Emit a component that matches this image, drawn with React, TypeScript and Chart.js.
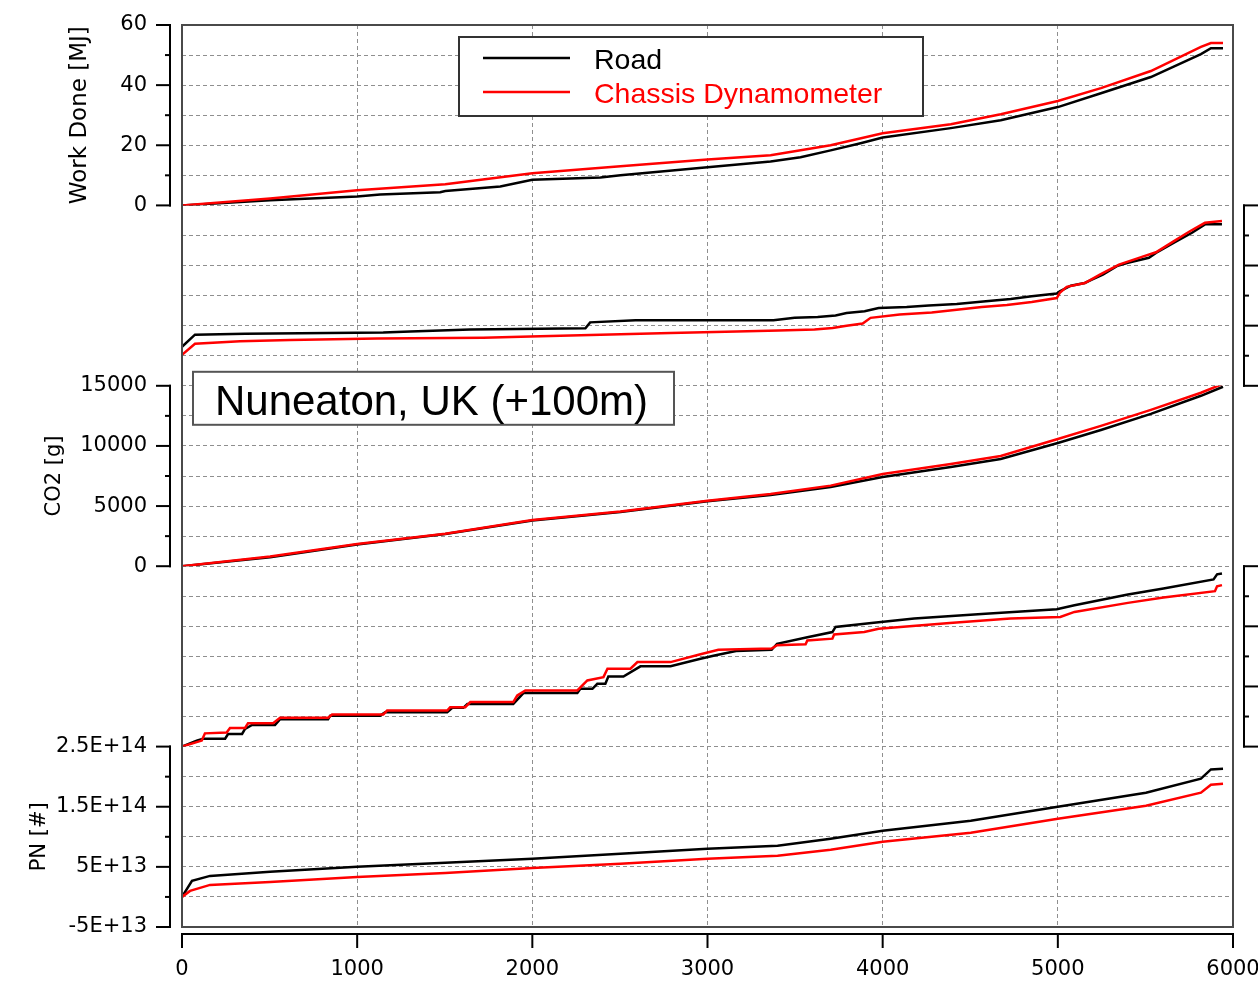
import React, { useEffect, useRef } from 'react';
import { Chart, registerables } from 'chart.js';
Chart.register(...registerables);

// ---------- series labels ----------
const ROAD = 'Road';
const CHASSIS = 'Chassis Dynamometer';
const ROAD_COLOR = '#000000';
const CHASSIS_COLOR = '#ff0000';

// ---------- x axis ----------
const xTicks = [0, 1000, 2000, 3000, 4000, 5000, 6000];

// ---------- panel 1: Work Done [MJ] ----------
const wdRoadTime = [0, 503, 1000, 1131, 1474, 1503, 1817, 2000, 2389, 2503, 3000, 3360, 3531, 3703, 3874, 4000, 4389, 4674, 5000, 5246, 5531, 5817, 5874, 5943];
const wdRoadMJ = [0, 1.7, 3.0, 3.6, 4.4, 4.8, 6.3, 8.5, 9.3, 10.0, 12.7, 14.6, 16.0, 18.3, 20.7, 22.6, 25.7, 28.3, 32.7, 37.3, 42.7, 50.3, 52.3, 52.3];
const wdChassisTime = [0, 503, 1000, 1503, 2000, 2503, 3000, 3360, 3703, 4000, 4389, 4674, 5000, 5246, 5531, 5817, 5874, 5943];
const wdChassisMJ = [0, 2.3, 5.0, 7.0, 10.7, 13.0, 15.3, 16.7, 20.0, 24.0, 27.0, 30.3, 34.7, 39.0, 44.7, 52.7, 54.0, 54.0];

// ---------- panel 2 (right axis, labels outside the frame) ----------
const p2RoadTime = [0, 74, 360, 1149, 1303, 1646, 2303, 2330, 2589, 3377, 3497, 3629, 3731, 3794, 3897, 3977, 4137, 4263, 4423, 4589, 4731, 4851, 4994, 5011, 5074, 5154, 5194, 5257, 5337, 5400, 5520, 5560, 5663, 5766, 5840, 5937];
const p2RoadVal = [1.30, 1.70, 1.73, 1.77, 1.81, 1.87, 1.91, 2.11, 2.18, 2.18, 2.26, 2.29, 2.34, 2.42, 2.48, 2.59, 2.62, 2.67, 2.72, 2.81, 2.89, 2.98, 3.07, 3.14, 3.33, 3.42, 3.53, 3.70, 3.98, 4.09, 4.26, 4.42, 4.76, 5.09, 5.37, 5.37];
const p2ChassisTime = [0, 74, 331, 617, 1114, 1720, 1989, 2389, 2789, 3166, 3406, 3611, 3714, 3794, 3886, 3931, 4097, 4280, 4423, 4566, 4709, 4851, 4994, 5011, 5051, 5154, 5240, 5349, 5480, 5560, 5663, 5754, 5840, 5937];
const p2ChassisVal = [1.03, 1.40, 1.48, 1.52, 1.57, 1.60, 1.64, 1.70, 1.76, 1.81, 1.84, 1.87, 1.92, 2.00, 2.07, 2.26, 2.37, 2.44, 2.53, 2.62, 2.69, 2.79, 2.92, 3.09, 3.29, 3.42, 3.70, 4.03, 4.29, 4.44, 4.81, 5.14, 5.42, 5.48];

// ---------- panel 3: CO2 [g] ----------
const co2Time = [0, 503, 1000, 1503, 2000, 2503, 3000, 3360, 3703, 4000, 4389, 4674, 5000, 5246, 5531, 5817, 5943];
const co2Road = [0, 750, 1800, 2670, 3800, 4500, 5400, 5920, 6580, 7420, 8250, 8920, 10250, 11330, 12670, 14170, 14920];
const co2Chassis = [0, 800, 1850, 2700, 3850, 4550, 5450, 6000, 6700, 7670, 8500, 9170, 10580, 11670, 13000, 14420, 15170];

// ---------- panel 4 (right axis, labels outside the frame) ----------
const p4RoadTime = [0, 84, 120, 246, 263, 343, 360, 400, 531, 560, 834, 846, 1131, 1160, 1514, 1543, 1606, 1629, 1891, 1949, 2257, 2274, 2343, 2371, 2417, 2434, 2520, 2617, 2789, 2960, 3040, 3163, 3366, 3397, 3570, 3713, 3731, 3936, 4180, 4587, 4994, 5095, 5400, 5603, 5889, 5909, 5937];
const p4RoadVal = [0, 0.20, 0.26, 0.26, 0.42, 0.42, 0.59, 0.72, 0.72, 0.91, 0.91, 1.03, 1.03, 1.14, 1.14, 1.29, 1.29, 1.42, 1.42, 1.78, 1.78, 1.92, 1.92, 2.09, 2.09, 2.33, 2.33, 2.67, 2.67, 2.92, 3.03, 3.18, 3.22, 3.42, 3.64, 3.81, 3.98, 4.11, 4.26, 4.42, 4.57, 4.70, 5.06, 5.26, 5.56, 5.73, 5.76];
const p4ChassisTime = [0, 113, 131, 255, 274, 360, 377, 520, 560, 834, 857, 1149, 1171, 1514, 1531, 1617, 1646, 1891, 1914, 1960, 2257, 2314, 2406, 2429, 2560, 2600, 2789, 2960, 3062, 3366, 3397, 3560, 3570, 3713, 3723, 3895, 3977, 4383, 4729, 5014, 5095, 5400, 5603, 5897, 5909, 5937];
const p4ChassisVal = [0, 0.20, 0.44, 0.47, 0.62, 0.62, 0.78, 0.78, 0.96, 0.96, 1.07, 1.07, 1.20, 1.20, 1.31, 1.31, 1.48, 1.48, 1.70, 1.87, 1.87, 2.20, 2.31, 2.59, 2.59, 2.81, 2.81, 3.07, 3.22, 3.26, 3.37, 3.40, 3.53, 3.59, 3.73, 3.81, 3.92, 4.11, 4.26, 4.31, 4.48, 4.78, 4.96, 5.17, 5.33, 5.37];

// ---------- panel 5: PN [#] ----------
const pnRoadTime = [0, 57, 160, 503, 1000, 1503, 2000, 2503, 3000, 3400, 3703, 4000, 4503, 5000, 5503, 5817, 5874, 5943];
const pnRoad = [0, 2.67e13, 3.5e13, 4.17e13, 5.0e13, 5.67e13, 6.33e13, 7.17e13, 8.0e13, 8.5e13, 9.67e13, 1.1e14, 1.267e14, 1.5e14, 1.733e14, 1.967e14, 2.12e14, 2.13e14];
const pnChassisTime = [0, 46, 160, 503, 1000, 1503, 2000, 2503, 3000, 3400, 3703, 4000, 4503, 5000, 5503, 5817, 5874, 5943];
const pnChassis = [0, 1.0e13, 2.0e13, 2.5e13, 3.33e13, 4.0e13, 4.83e13, 5.5e13, 6.33e13, 6.83e13, 7.83e13, 9.17e13, 1.067e14, 1.3e14, 1.517e14, 1.733e14, 1.867e14, 1.883e14];

// ---------- texts ----------
const wdTitle = 'Work Done [MJ]';
const co2Title = 'CO2 [g]';
const pnTitle = 'PN [#]';
const placeText = 'Nuneaton, UK (+100m)';

const zip = (t: number[], v: number[]) => t.map((x, i) => ({ x, y: v[i] }));

const TICK_FONT = { family: 'DejaVu Sans', size: 21 };
const LEFT_W = 182;
const RIGHT_W = 67;
const GRID = { color: '#8f8f8f', lineWidth: 1, drawTicks: false };
const BORDER = { display: false, dash: [4, 3] };

const isMult = (v: number, base: number, step: number) => {
  const q = (v - base) / step;
  return Math.abs(q - Math.round(q)) < 1e-6;
};

// which tick values get long (labelled) tick marks, per axis
const MAJOR: Record<string, (v: number) => boolean> = {
  L1: (v) => isMult(v, 0, 20),
  L3: (v) => isMult(v, 0, 5000),
  L5: (v) => isMult(v, -5e13, 1e14),
  R2: (v) => isMult(v, 0, 2),
  R4: (v) => isMult(v, 0, 2),
};

const fitV = (width: number) => (s: any) => {
  s.width = width;
  s.paddingTop = 0;
  s.paddingBottom = 0;
};

const leftAxis = (id: string, weight: number, min: number, max: number, step: number, fmt: (v: number) => string, title: string, titleSize: number, titlePad: number) => ({
  type: 'linear', position: 'left', stack: 'ys', weight, min, max,
  afterFit: fitV(LEFT_W),
  ticks: { stepSize: step, autoSkip: false, font: TICK_FONT, color: '#000', padding: 35,
    callback: (v: any) => (MAJOR[id](Number(v)) ? fmt(Number(v)) : '') },
  grid: GRID, border: BORDER,
  title: { display: true, text: title, font: { family: 'DejaVu Sans', size: titleSize }, color: '#000', padding: { top: titlePad, bottom: 0 } },
});

const placeholder = (position: string, weight: number, width: number) => ({
  type: 'linear', position, stack: 'ys', weight, min: 0, max: 1, display: true,
  afterFit: fitV(width),
  ticks: { display: false }, grid: { display: false }, border: { display: false }, title: { display: false },
});

const rightAxis = (weight: number) => ({
  type: 'linear', position: 'right', stack: 'ys', weight, min: 0, max: 6,
  afterFit: fitV(RIGHT_W),
  ticks: { stepSize: 1, autoSkip: false, display: false },
  grid: GRID, border: BORDER, title: { display: false },
});

const decorPlugin = {
  id: 'decor',
  afterDraw(chart: any) {
    const { ctx, chartArea: ca } = chart;
    ctx.save();
    ctx.setLineDash([]);
    // plot frame
    ctx.strokeStyle = '#4a4a4a';
    ctx.lineWidth = 2;
    ctx.strokeRect(ca.left, ca.top, ca.right - ca.left, ca.bottom - ca.top);

    // detached axes
    ctx.strokeStyle = '#000';
    ctx.lineWidth = 2;
    ctx.lineCap = 'square';
    const drawV = (id: string, side: string) => {
      const s = chart.scales[id];
      const major = MAJOR[id];
      const x = side === 'left' ? ca.left - 12 : ca.right + 11;
      const dir = side === 'left' ? -1 : 1;
      ctx.beginPath();
      ctx.moveTo(x, s.top);
      ctx.lineTo(x, s.bottom);
      ctx.stroke();
      s.ticks.forEach((t: any) => {
        const y = s.getPixelForValue(t.value);
        const len = major(t.value) ? (side === 'left' ? 13 : 30) : 4;
        ctx.beginPath();
        ctx.moveTo(x, y);
        ctx.lineTo(x + dir * len, y);
        ctx.stroke();
      });
    };
    ['L1', 'L3', 'L5'].forEach((id) => drawV(id, 'left'));
    ['R2', 'R4'].forEach((id) => drawV(id, 'right'));
    const xs = chart.scales.x;
    const yAx = ca.bottom + 7;
    ctx.beginPath();
    ctx.moveTo(xs.left, yAx);
    ctx.lineTo(xs.right, yAx);
    ctx.stroke();
    xs.ticks.forEach((t: any) => {
      const px = xs.getPixelForValue(t.value);
      ctx.beginPath();
      ctx.moveTo(px, yAx);
      ctx.lineTo(px, yAx + 13);
      ctx.stroke();
    });

    // legend
    const ds = chart.data.datasets;
    const lx = ca.left + 277, ly = ca.top + 12, lw = 464, lh = 79;
    ctx.fillStyle = '#fff';
    ctx.fillRect(lx, ly, lw, lh);
    ctx.strokeStyle = '#333';
    ctx.lineWidth = 2;
    ctx.lineCap = 'butt';
    ctx.strokeRect(lx, ly, lw, lh);
    [ds[0], ds[1]].forEach((d: any, i: number) => {
      const cy = ly + 21 + i * 34;
      ctx.strokeStyle = d.borderColor;
      ctx.lineWidth = 2.5;
      ctx.beginPath();
      ctx.moveTo(lx + 24, cy);
      ctx.lineTo(lx + 111, cy);
      ctx.stroke();
      ctx.fillStyle = d.borderColor;
      ctx.font = '28.5px "Liberation Sans", Arial, sans-serif';
      ctx.textBaseline = 'alphabetic';
      ctx.textAlign = 'left';
      ctx.fillText(String(d.label), lx + 135, cy + 10.5);
    });

    // location annotation
    const s3 = chart.scales.L3;
    const ax = ca.left + 11, ay = s3.top - 14, aw = 481, ah = 53;
    ctx.fillStyle = '#fff';
    ctx.fillRect(ax, ay, aw, ah);
    ctx.strokeStyle = '#555';
    ctx.lineWidth = 2;
    ctx.strokeRect(ax, ay, aw, ah);
    ctx.fillStyle = '#000';
    ctx.font = '42px "Liberation Sans", Arial, sans-serif';
    ctx.textAlign = 'center';
    ctx.textBaseline = 'alphabetic';
    ctx.fillText(placeText, ax + aw / 2 - 2, ay + 43);
    ctx.restore();
  },
};

export default function App() {
  const ref = useRef<HTMLCanvasElement | null>(null);
  useEffect(() => {
    if (!ref.current) return;
    const mk = (label: string, color: string, data: any[], yAxisID: string) => ({
      label, data, yAxisID, xAxisID: 'x', borderColor: color, backgroundColor: color,
      borderWidth: 2.5, pointRadius: 0, tension: 0, fill: false, order: color === ROAD_COLOR ? 1 : 0,
    });
    const chart = new Chart(ref.current, {
      type: 'line',
      data: {
        datasets: [
          mk(ROAD, ROAD_COLOR, zip(wdRoadTime, wdRoadMJ), 'L1'),
          mk(CHASSIS, CHASSIS_COLOR, zip(wdChassisTime, wdChassisMJ), 'L1'),
          mk(ROAD, ROAD_COLOR, zip(p2RoadTime, p2RoadVal), 'R2'),
          mk(CHASSIS, CHASSIS_COLOR, zip(p2ChassisTime, p2ChassisVal), 'R2'),
          mk(ROAD, ROAD_COLOR, zip(co2Time, co2Road), 'L3'),
          mk(CHASSIS, CHASSIS_COLOR, zip(co2Time, co2Chassis), 'L3'),
          mk(ROAD, ROAD_COLOR, zip(p4RoadTime, p4RoadVal), 'R4'),
          mk(CHASSIS, CHASSIS_COLOR, zip(p4ChassisTime, p4ChassisVal), 'R4'),
          mk(ROAD, ROAD_COLOR, zip(pnRoadTime, pnRoad), 'L5'),
          mk(CHASSIS, CHASSIS_COLOR, zip(pnChassisTime, pnChassis), 'L5'),
        ],
      },
      options: {
        responsive: false,
        animation: false,
        devicePixelRatio: 1,
        layout: { padding: { left: 0, top: 25, right: 0, bottom: 0 } },
        plugins: { legend: { display: false }, tooltip: { enabled: false } },
        scales: {
          x: {
            type: 'linear', position: 'bottom', min: xTicks[0], max: xTicks[xTicks.length - 1],
            afterFit: (s: any) => { s.height = 55; },
            ticks: { stepSize: 1000, autoSkip: false, maxRotation: 0, font: TICK_FONT, color: '#000', padding: 30, callback: (v: any) => String(v) },
            grid: GRID, border: BORDER,
          },
          L1: leftAxis('L1', 5, 0, 60, 10, (v) => String(v), wdTitle, 23, 66),
          L2: placeholder('left', 4, LEFT_W),
          L3: leftAxis('L3', 3, 0, 15000, 2500, (v) => String(v), co2Title, 21, 42),
          L4: placeholder('left', 2, LEFT_W),
          L5: leftAxis('L5', 1, -5e13, 2.5e14, 5e13, (v) => v.toExponential().toUpperCase(), pnTitle, 21, 27),
          R1: placeholder('right', 1, RIGHT_W),
          R2: rightAxis(2),
          R3: placeholder('right', 3, RIGHT_W),
          R4: rightAxis(4),
          R5: placeholder('right', 5, RIGHT_W),
        },
      },
      plugins: [decorPlugin],
    } as any);
    return () => chart.destroy();
  }, []);

  return (
    <div style={{ position: 'absolute', left: 0, top: 0, width: 1258, height: 982, overflow: 'hidden', background: '#fff' }}>
      <canvas ref={ref} width={1300} height={982} style={{ display: 'block' }} />
    </div>
  );
}
